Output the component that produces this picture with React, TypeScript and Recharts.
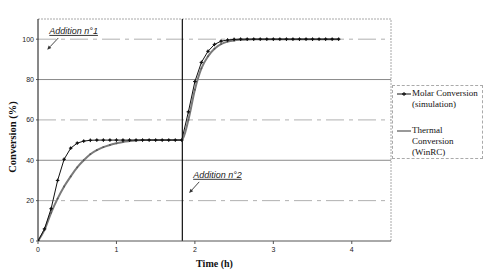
import React from 'react';
import {
  LineChart,
  Line,
  XAxis,
  YAxis,
  ReferenceLine,
  ReferenceDot,
} from 'recharts';

// Sampling times (h), every 5 minutes
const timeH = [
  0, 0.083, 0.167, 0.25, 0.333, 0.417, 0.5, 0.583, 0.667, 0.75, 0.833, 0.917,
  1, 1.083, 1.167, 1.25, 1.333, 1.417, 1.5, 1.583, 1.667, 1.75, 1.833, 1.917,
  2, 2.083, 2.167, 2.25, 2.333, 2.417, 2.5, 2.583, 2.667, 2.75, 2.833, 2.917,
  3, 3.083, 3.167, 3.25, 3.333, 3.417, 3.5, 3.583, 3.667, 3.75, 3.833,
];

// Molar conversion (%), simulation
const molarConversion = [
  0, 6, 16, 30, 40.5, 46, 48.5, 49.5, 49.9, 50, 50, 50,
  50, 50, 50, 50, 50, 50, 50, 50, 50, 50, 50, 64,
  79, 88.5, 94, 97.4, 99, 99.6, 99.9, 100, 100, 100, 100, 100,
  100, 100, 100, 100, 100, 100, 100, 100, 100, 100, 100,
];

// Thermal conversion (%), WinRC
const thermalConversion = [
  0, 5.5, 14, 21, 27, 32, 36.5, 40, 43, 45, 46.5, 47.6,
  48.4, 49.1, 49.5, 49.8, 50, 50, 50, 50, 50, 50, 50, 60,
  75, 85.5, 91.5, 95.3, 97.6, 98.8, 99.4, 99.7, 99.9, 100, 100, 100,
  100, 100, 100, 100, 100, 100, 100, 100, 100, 100, 100,
];

const xTicks = [0, 1, 2, 3, 4];
const yTicks = [0, 20, 40, 60, 80, 100];
const gridLevels = [20, 40, 60, 80, 100];
const xMax = 4.5;
const yMax = 110;
const secondAdditionTime = 1.84;

const annotations = [
  { text: 'Addition n°1', x: 0.144, y: 102.6, from: { x: 0.259, y: 100.6 }, to: { x: 0.118, y: 94.8 } },
  { text: 'Addition n°2', x: 1.978, y: 31.3, from: { x: 2.055, y: 29.3 }, to: { x: 1.927, y: 23.8 } },
];

const legendItems = [
  { lines: ['Molar Conversion', '(simulation)'], kind: 'molar' },
  { lines: ['Thermal', 'Conversion', '(WinRC)'], kind: 'thermal' },
];

const data = timeH.map((t, i) => ({
  t,
  molar: molarConversion[i],
  thermal: thermalConversion[i],
}));

const sans = '"Liberation Sans", Arial, sans-serif';
const serif = '"Liberation Serif", "Times New Roman", serif';

const MolarDot = (props: any) => {
  const { cx, cy } = props;
  if (cx == null || cy == null) return null;
  return (
    <g>
      <line x1={cx - 1.8} x2={cx + 1.8} y1={cy} y2={cy} stroke="#111" strokeWidth={1} />
      <line x1={cx} x2={cx} y1={cy - 1.8} y2={cy + 1.8} stroke="#111" strokeWidth={1} />
      <circle cx={cx} cy={cy} r={1.1} fill="#111" />
    </g>
  );
};

const ThermalDot = (props: any) => {
  const { cx, cy } = props;
  if (cx == null || cy == null) return null;
  return <circle cx={cx} cy={cy} r={0.9} fill="#555" />;
};

const Arrow = (props: any) => {
  const { x1, y1, x2, y2 } = props;
  if ([x1, y1, x2, y2].some((v) => v == null || Number.isNaN(v))) return null;
  const dx = x2 - x1;
  const dy = y2 - y1;
  const len = Math.hypot(dx, dy) || 1;
  const ux = dx / len;
  const uy = dy / len;
  const hl = 4;
  const hw = 1.8;
  const bx = x2 - ux * hl;
  const by = y2 - uy * hl;
  return (
    <g>
      <line x1={x1} y1={y1} x2={bx} y2={by} stroke="#333" strokeWidth={0.9} />
      <polygon
        points={`${x2},${y2} ${bx - uy * hw},${by + ux * hw} ${bx + uy * hw},${by - ux * hw}`}
        fill="#333"
      />
    </g>
  );
};

const LegendSwatch = ({ kind }: { kind: string }) => (
  <svg width={15} height={11} style={{ flex: 'none' }}>
    {kind === 'molar' ? (
      <g>
        <line x1={0} x2={14} y1={6} y2={6} stroke="#111" strokeWidth={1} />
        <line x1={7} x2={7} y1={4} y2={8} stroke="#111" strokeWidth={1} />
        <line x1={5} x2={9} y1={6} y2={6} stroke="#111" strokeWidth={1.4} />
      </g>
    ) : (
      <line x1={0} x2={14} y1={6} y2={6} stroke="#777" strokeWidth={1.5} />
    )}
  </svg>
);

const LegendBox = () => (
  <div
    style={{
      position: 'absolute',
      left: 392,
      top: 85,
      boxSizing: 'border-box',
      width: 91,
      height: 74,
      border: '1px dashed #aaa',
      fontFamily: serif,
      fontSize: 9,
      lineHeight: '11.3px',
      color: '#111',
      paddingTop: 2,
      paddingLeft: 4,
      whiteSpace: 'nowrap',
    }}
  >
    {legendItems.map((item, i) => (
      <div key={item.kind} style={{ display: 'flex', marginTop: i === 0 ? 0 : 14 }}>
        <LegendSwatch kind={item.kind} />
        <div>
          {item.lines.map((l) => (
            <div key={l}>{l}</div>
          ))}
        </div>
      </div>
    ))}
  </div>
);

const YTitle = (props: any) => {
  const vb = props.viewBox || {};
  const x = (vb.x ?? 8) + 4;
  const y = (vb.y ?? 19) + (vb.height ?? 222) / 2 + 7;
  return (
    <text
      x={x}
      y={y}
      transform={`rotate(-90 ${x} ${y})`}
      textAnchor="middle"
      dominantBaseline="central"
      fontFamily={serif}
      fontWeight="bold"
      fontSize={10.5}
      fill="#111"
    >
      Conversion (%)
    </text>
  );
};

const XTitle = (props: any) => {
  const vb = props.viewBox || {};
  const x = (vb.x ?? 38) + (vb.width ?? 353) / 2;
  const y = (vb.y ?? 241) + 26;
  return (
    <text x={x} y={y} textAnchor="middle" fontFamily={serif} fontWeight="bold" fontSize={10} fill="#111">
      Time (h)
    </text>
  );
};

const tickStyle = { fontFamily: sans, fontSize: 7, fill: '#222' };

export default function App() {
  return (
    <div style={{ position: 'absolute', left: 0, top: 0, width: 487, height: 270, background: '#fff' }}>
      <LineChart
        width={487}
        height={270}
        data={data}
        margin={{ top: 19, right: 96, bottom: 14, left: 8 }}
      >
        <XAxis
          dataKey="t"
          type="number"
          domain={[0, xMax]}
          ticks={xTicks}
          allowDataOverflow
          height={15}
          tick={tickStyle}
          tickSize={3}
          tickMargin={3}
          axisLine={{ stroke: '#555', strokeWidth: 1 }}
          tickLine={{ stroke: '#555' }}
          label={<XTitle />}
        />
        <YAxis
          type="number"
          domain={[0, yMax]}
          ticks={yTicks}
          allowDataOverflow
          width={30}
          tick={tickStyle}
          tickSize={2}
          tickMargin={2}
          axisLine={{ stroke: '#111', strokeWidth: 1 }}
          tickLine={{ stroke: '#555' }}
          label={<YTitle />}
        />
        {gridLevels.map((v) => (
          <ReferenceLine
            key={`g${v}`}
            y={v}
            stroke={v % 40 === 0 ? '#8a8a8a' : '#b0b0b0'}
            strokeWidth={1}
            strokeDasharray={v % 40 === 0 ? undefined : '18 5 4 5'}
          />
        ))}
        <ReferenceLine y={yMax} stroke="#a8a8a8" strokeDasharray="2 1" />
        <ReferenceLine x={xMax} stroke="#a8a8a8" strokeDasharray="2 1" />
        <ReferenceLine x={secondAdditionTime} stroke="#111" strokeWidth={1.2} />
        <Line
          dataKey="thermal"
          type="monotone"
          stroke="#7a7a7a"
          strokeWidth={2}
          dot={<ThermalDot />}
          activeDot={false}
          isAnimationActive={false}
        />
        <Line
          dataKey="molar"
          type="linear"
          stroke="#111"
          strokeWidth={1}
          dot={<MolarDot />}
          activeDot={false}
          isAnimationActive={false}
        />
        {annotations.map((a) => (
          <ReferenceLine
            key={`a${a.text}`}
            segment={[a.from, a.to]}
            shape={<Arrow />}
          />
        ))}
        {annotations.map((a) => (
          <ReferenceDot
            key={`t${a.text}`}
            x={a.x}
            y={a.y}
            r={0}
            shape={(p: any) => (
              <text
                x={p.cx}
                y={p.cy}
                fontFamily={sans}
                fontStyle="italic"
                fontSize={9}
                fill="#222"
                textDecoration="underline"
              >
                {a.text}
              </text>
            )}
          />
        ))}
      </LineChart>
      <LegendBox />
    </div>
  );
}
